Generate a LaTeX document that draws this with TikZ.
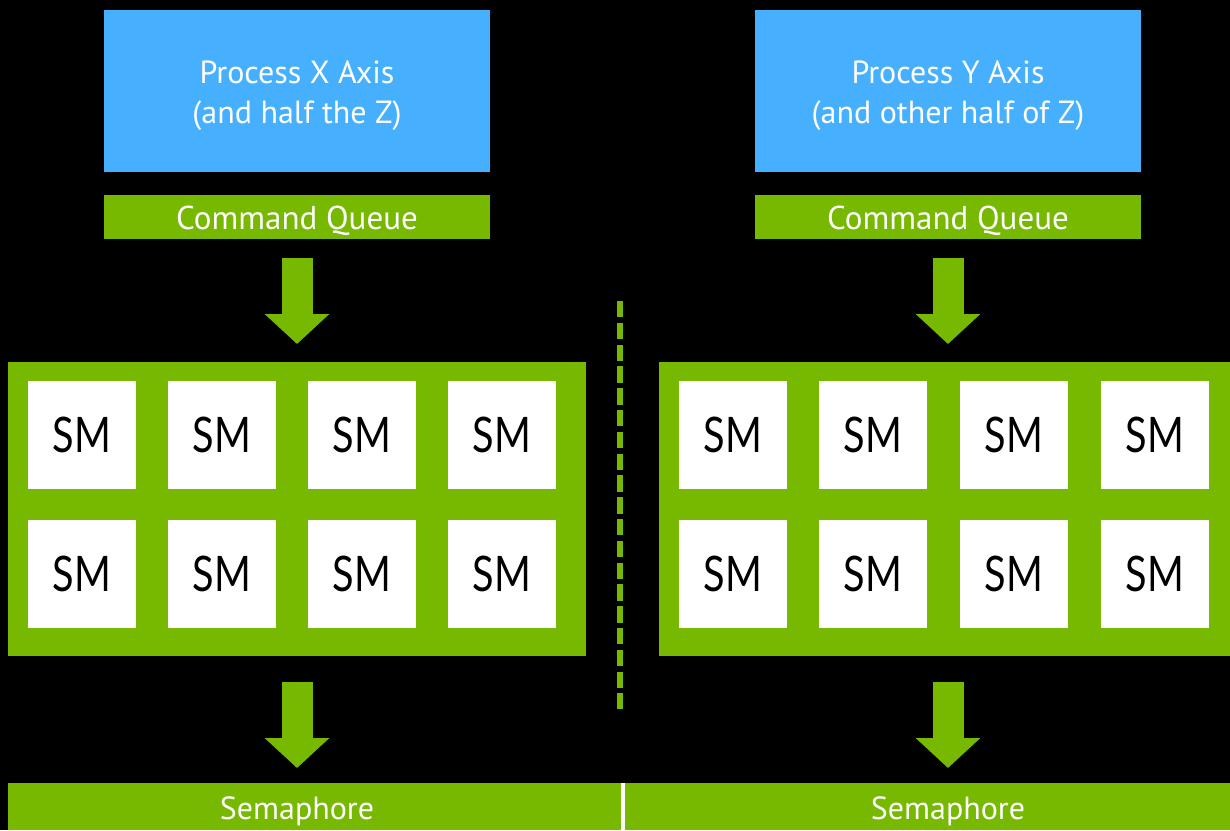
\documentclass[tikz,border=0pt]{standalone}
\usepackage{fontspec}
\setmainfont{PT Sans}
\newfontfamily\smfont[FakeStretch=0.81]{Lato}
\usetikzlibrary{arrows.meta,calc}
\definecolor{nvgreen}{HTML}{76B900}
\definecolor{pblue}{HTML}{46B0FF}
\begin{document}
\begin{tikzpicture}[x=1pt,y=-1pt,
  box/.style={rectangle, inner sep=0pt, outer sep=0pt, anchor=center},
  procbox/.style={box, fill=pblue, minimum width=386pt, minimum height=162pt},
  proctext/.style={text=white, align=center, inner sep=0pt, font=\fontsize{32}{40}\selectfont},
  cqbox/.style={box, fill=nvgreen, minimum width=386pt, minimum height=44pt, text=white, font=\fontsize{33}{36}\selectfont},
  panelbox/.style={box, fill=nvgreen, minimum height=294pt},
  smbox/.style={box, fill=white, minimum size=108pt, text=black, font=\smfont\fontsize{49}{50}\selectfont},
  sembar/.style={box, fill=nvgreen, minimum height=47pt},
  semtext/.style={inner sep=0pt, anchor=base, text=white, font=\fontsize{32}{34}\selectfont},
  blockarrow/.style={draw=nvgreen, line width=31pt, -{Triangle[width=63pt,length=30pt]}},
  divider/.style={draw=nvgreen, line width=5.7pt, dash pattern=on 16.3pt off 5.5pt}
]
\useasboundingbox (0,0) rectangle (1230,830);
\fill[black] (0,0) rectangle (1230,830);

% top boxes
\node[procbox] (p1) at (297,91) {};
\node[procbox] (p2) at (948,91) {};
\node[proctext] (t1) at (297,96) {Process X Axis\\(and half the Z)};
\node[proctext] (t2) at (948,96) {Process Y Axis\\(and other half of Z)};
\node[cqbox] (cq1) at (297,217) {};
\node[cqbox] (cq2) at (948,217) {};
\node[semtext, font=\fontsize{33}{36}\selectfont] (cqt1) at (297,229) {Command Queue};
\node[semtext, font=\fontsize{33}{36}\selectfont] (cqt2) at (948,229) {Command Queue};

% panels
\node[panelbox, minimum width=578pt] (panel1) at (297,509) {};
\node[panelbox, minimum width=571pt] (panel2) at (944.5,509) {};

% SM boxes
\foreach \x [count=\i] in {82,222,362,502} {
  \node[smbox] (sma\i) at (\x,435) {SM};
  \node[smbox] (smb\i) at (\x,574) {SM};
}
\foreach \x [count=\i] in {733,873,1014,1155} {
  \node[smbox] (smc\i) at (\x,435) {SM};
  \node[smbox] (smd\i) at (\x,574) {SM};
}

% semaphore bars
\fill[white] (619,783) rectangle (627,830);
\node[sembar, minimum width=613pt] (sem1) at (314.5,806.5) {};
\node[sembar, minimum width=605pt] (sem2) at (927.5,806.5) {};
\node[semtext] (st1) at (297,819) {Semaphore};
\node[semtext] (st2) at (948,819) {Semaphore};

% divider
\coordinate (dtop) at (620,301);
\coordinate (dbot) at (620,709);
\draw[divider] (dtop) -- (dbot);

% arrows
\draw[blockarrow] ($(cq1.south)+(0,19)$) -- ($(cq1.south |- panel1.north)+(0,-18)$);
\draw[blockarrow] ($(cq2.south)+(0,19)$) -- ($(cq2.south |- panel2.north)+(0,-18)$);
\draw[blockarrow] ($(cq1.south |- panel1.south)+(0,26)$) -- ($(cq1.south |- sem1.north)+(0,-15)$);
\draw[blockarrow] ($(cq2.south |- panel2.south)+(0,26)$) -- ($(cq2.south |- sem2.north)+(0,-15)$);
\end{tikzpicture}
\end{document}
